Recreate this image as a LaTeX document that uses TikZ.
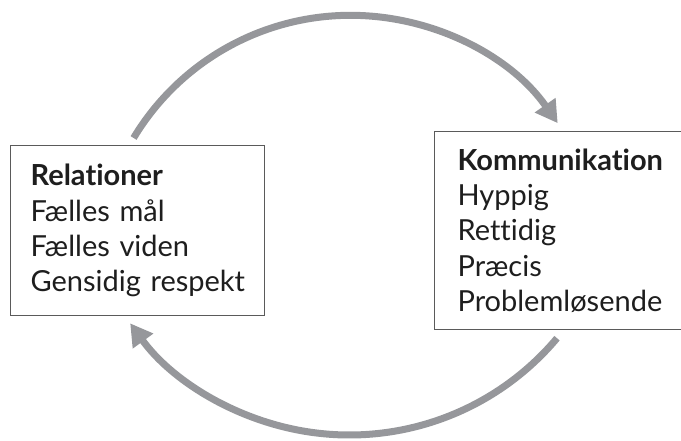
\documentclass[tikz,border=0pt]{standalone}
\usepackage{fontspec}
\setmainfont{Lato}[Ligatures=NoCommon]
\usetikzlibrary{arrows.meta}
\definecolor{arrowgray}{RGB}{150,151,155}
\definecolor{boxline}{RGB}{90,90,90}
\definecolor{txt}{RGB}{30,30,30}
\begin{document}
\begin{tikzpicture}[x=1pt,y=1pt,
  box/.style={draw=boxline, line width=1.2pt, rectangle, anchor=north west, align=left,
    inner xsep=20pt, inner ysep=0pt, text=txt, font=\fontsize{29}{35.3}\selectfont},
  cyc/.style={draw=arrowgray, line width=7pt, -{Triangle[width=24pt,length=22pt]}}]
\clip (0,0) rectangle (681,441);
\node[box, text width=214pt, minimum height=170pt] (rel) at (10,296)
  {\mbox{\textbf{Relationer}}\\\mbox{Fælles mål}\\\mbox{Fælles viden}\\\mbox{Gensidig respekt}};
\node[box, inner xsep=23pt, text width=230pt, minimum height=198pt] (kom) at (434,310)
  {\mbox{\textbf{Kommunikation}}\\\mbox{Hyppig}\\\mbox{Rettidig}\\\mbox{Præcis}\\\mbox{Problemløsende}};
\draw[cyc] ([shift={(-4,7)}]rel.north) arc[start angle=149, end angle=35, radius=253];
\draw[cyc] ([shift={(123,-8)}]kom.south west) arc[start angle=-40, end angle=-144, radius=271];
\end{tikzpicture}
\end{document}
